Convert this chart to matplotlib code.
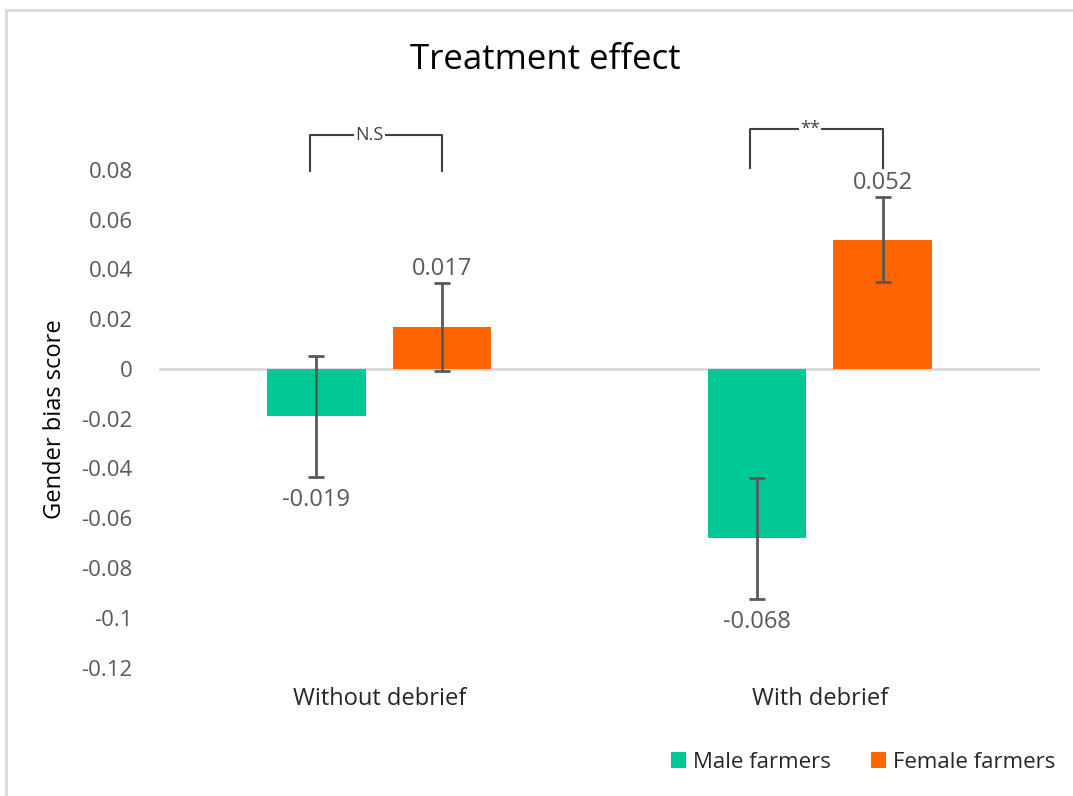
import numpy as np
import matplotlib.pyplot as plt
from matplotlib.patches import Rectangle

plt.rcParams['font.family'] = ['Open Sans', 'DejaVu Sans']

# data
groups = ['Without debrief', 'With debrief']
series = ['Male farmers', 'Female farmers']
male = [-0.019, -0.068]
female = [0.017, 0.052]
male_err = [0.0243, 0.0243]
female_err = [0.0177, 0.017]
sig_labels = ['N.S', '**']

green = '#00C996'
orange = '#FF6600'
gray = '#595959'

fig = plt.figure(figsize=(10.73, 7.96), dpi=100)
ax = fig.add_axes([159/1073, 1-667.5/796, (1040-159)/1073, (667.5-170)/796])

x = np.arange(len(groups))
w = 0.223
off = 0.1425

ax.bar(x - off, male, w, color=green, label=series[0], zorder=2)
ax.bar(x + off, female, w, color=orange, label=series[1], zorder=2)
ax.errorbar(x - off, male, yerr=male_err, fmt='none', ecolor=gray,
            elinewidth=2, capsize=6, capthick=2, zorder=3)
ax.errorbar(x + off, female, yerr=female_err, fmt='none', ecolor=gray,
            elinewidth=2, capsize=6, capthick=2, zorder=3)

ax.axhline(0, color='#D9D9D9', lw=2, zorder=1)

# value labels
for i in range(len(groups)):
    ax.text(x[i] - off, male[i] - male_err[i] - 0.0045, '%.3f' % male[i],
            ha='center', va='top', fontsize=17, color=gray)
    ax.text(x[i] + off, female[i] + female_err[i] + 0.0008, '%.3f' % female[i],
            ha='center', va='bottom', fontsize=17, color=gray)

# significance brackets
tops = [0.094, 0.0965]
bottoms = [0.0795, 0.081]
for i in range(len(groups)):
    x0 = x[i] - off - 0.015
    x1 = x[i] + off
    ax.plot([x0, x0, x1, x1], [bottoms[i], tops[i], tops[i], bottoms[i]],
            color='#404040', lw=1.5, clip_on=False, zorder=4)
    ax.text((x0 + x1) / 2 - 0.015, tops[i], sig_labels[i], ha='center', va='center',
            fontsize=13, color='#404040', clip_on=False, zorder=5,
            bbox=dict(facecolor='white', edgecolor='none', pad=1))

ax.set_xlim(-0.5, 1.5)
ax.set_ylim(-0.12, 0.08)
ax.set_yticks(np.arange(-0.12, 0.081, 0.02))
ax.set_yticklabels(['-0.12', '-0.1', '-0.08', '-0.06', '-0.04', '-0.02', '0',
                    '0.02', '0.04', '0.06', '0.08'])
ax.set_xticks(x)
ax.set_xticklabels(groups)
ax.tick_params(axis='y', length=0, pad=19, labelsize=16, labelcolor=gray)
ax.tick_params(axis='x', length=0, pad=14, labelsize=17, labelcolor='#262626')
for s in ax.spines.values():
    s.set_visible(False)

ax.set_ylabel('Gender bias score', fontsize=17, color='black', labelpad=10)

fig.text(545/1073, 1-60/796, 'Treatment effect', ha='center', va='center',
         fontsize=25, color='black')

leg = ax.legend(loc='center', bbox_to_anchor=(863/1073, 1-762/796),
                bbox_transform=fig.transFigure, ncol=2, frameon=False,
                fontsize=16, handlelength=0.7, handleheight=0.7,
                handletextpad=0.3, columnspacing=1.8)
for t in leg.get_texts():
    t.set_color('#262626')

# outer chart border
fig.patches.append(Rectangle((6/1073, -0.05), 1.1, 1.05 - 10/796,
                             transform=fig.transFigure, fill=False,
                             edgecolor='#D9D9D9', lw=2))

fig.savefig('out.png', dpi=100)
